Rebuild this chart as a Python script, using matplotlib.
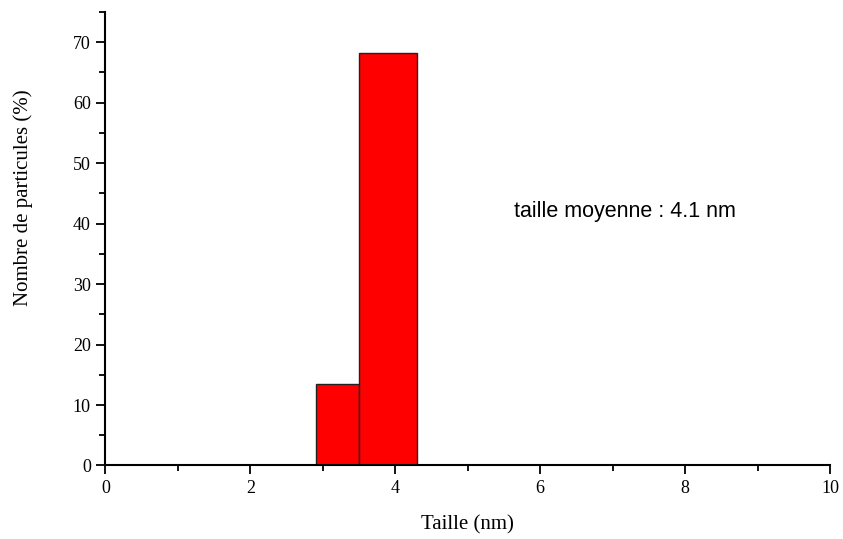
import matplotlib
matplotlib.use("Agg")
import matplotlib.pyplot as plt
from matplotlib.ticker import MultipleLocator

# histogram bins (nm) and percentages
bin_edges = [2.9, 3.5, 4.3]
percent = [13.4, 68.3]
mean_label = "taille moyenne : 4.1 nm"

fig = plt.figure(figsize=(8.43, 5.39), dpi=100)
ax = fig.add_axes([0.1251, 0.1364, 0.8595, 0.8413])

lefts = bin_edges[:-1]
widths = [b - a for a, b in zip(bin_edges[:-1], bin_edges[1:])]
ax.bar(lefts, percent, width=widths, align="edge", color="#ff0000",
       edgecolor="#222222", linewidth=1.0, zorder=2)

ax.set_xlim(0, 10)
ax.set_ylim(0, 75)
ax.xaxis.set_major_locator(MultipleLocator(2))
ax.xaxis.set_minor_locator(MultipleLocator(1))
ax.yaxis.set_major_locator(MultipleLocator(10))
ax.yaxis.set_minor_locator(MultipleLocator(5))

for s in ("top", "right"):
    ax.spines[s].set_visible(False)
for s in ("left", "bottom"):
    ax.spines[s].set_linewidth(1.5)
    ax.spines[s].set_zorder(3)

serif = "Liberation Serif"
ax.tick_params(which="major", direction="out", length=6.5, width=1.3,
               labelsize=13, pad=4)
ax.tick_params(which="minor", direction="out", length=4, width=1.3)
for lab in ax.get_xticklabels() + ax.get_yticklabels():
    lab.set_fontfamily(serif)

ax.set_xlabel("Taille (nm)", fontfamily=serif, fontsize=15)
ax.set_ylabel("Nombre de particules (%)", fontfamily=serif, fontsize=15)
ax.xaxis.set_label_coords(0.5, -0.11)
ax.yaxis.set_label_coords(-0.100, 0.59)

ax.text(5.64, 42, mean_label, fontfamily="Liberation Sans", fontsize=15.5,
        ha="left", va="center")

fig.savefig("out.png", dpi=100)
